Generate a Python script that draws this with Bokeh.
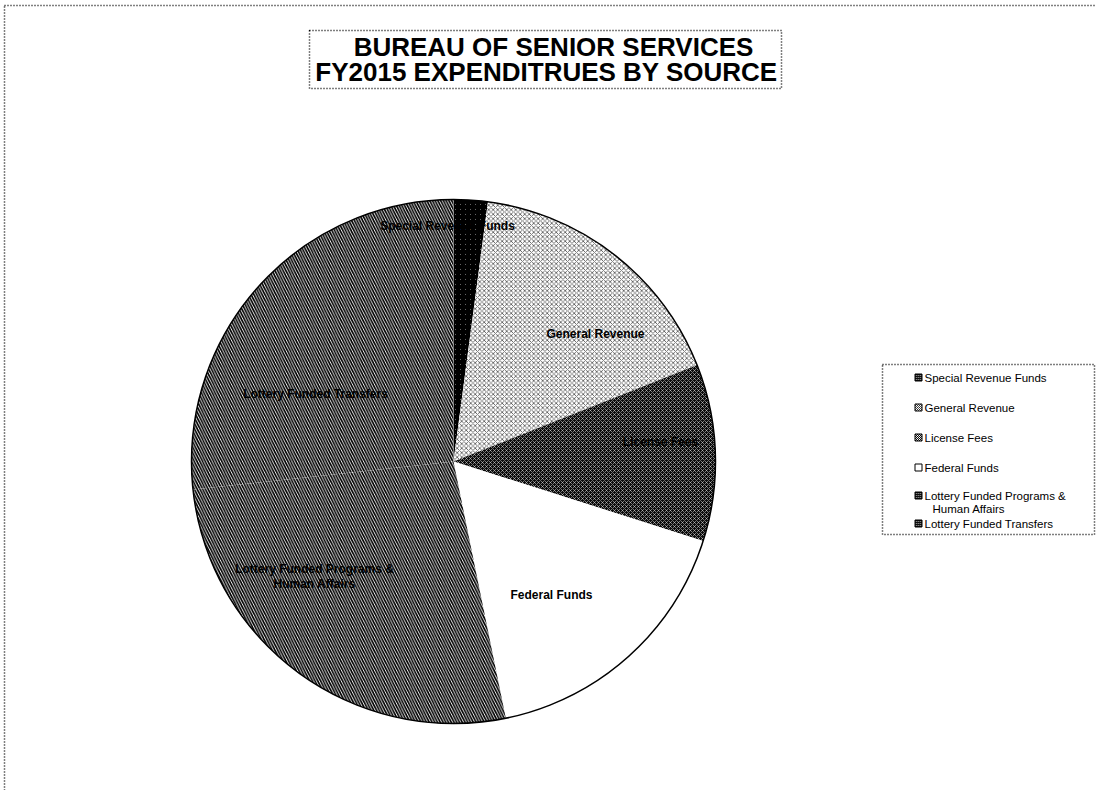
import numpy as np
from bokeh.plotting import figure
from bokeh.models import Range1d, ColumnDataSource
from bokeh.core.properties import value
from bokeh.embed import file_html
from bokeh.resources import INLINE

# ---------------- data ----------------
categories = [
    "Special Revenue Funds",
    "General Revenue",
    "License Fees",
    "Federal Funds",
    "Lottery Funded Programs & Human Affairs",
    "Lottery Funded Transfers",
]
shares = [2.1, 16.9, 10.9, 16.9, 26.5, 26.7]
title_lines = ["BUREAU OF SENIOR SERVICES", "FY2015 EXPENDITRUES BY SOURCE"]
slice_label_lines = [
    ["Special Revenue Funds"],
    ["General Revenue"],
    ["License Fees"],
    ["Federal Funds"],
    ["Lottery Funded Programs &", "Human Affairs"],
    ["Lottery Funded Transfers"],
]
legend_label_lines = [
    ["Special Revenue Funds"],
    ["General Revenue"],
    ["License Fees"],
    ["Federal Funds"],
    ["Lottery Funded Programs &", "Human Affairs"],
    ["Lottery Funded Transfers"],
]

# ---------------- styles / layout ----------------
fills = ["white", "white", "#0a0a0a", "white", "white", "white"]
hatches = ["\\", "x", "x", " ", "\\", "\\"]
hatch_colors = ["black", "#333333", "white", "black", "black", "black"]
hatch_scales = [5.0, 4.5, 4.0, 4.0, 5.5, 5.5]
hatch_weights = [2.4, 0.7, 0.45, 1.0, 1.65, 1.65]

W, H = 1096, 790


def X(px):
    return px


def Y(py):
    return H - py


cx, cy, R = X(453), Y(461), 262
# label anchors (reference pixel centres)
label_pos = [(447, 225), (595, 333), (660, 441), (551, 594), (314, 568), (315, 393)]
legend_rows = [377, 407, 437, 467, 495, 523]

p = figure(width=W, height=H, output_backend="svg", toolbar_location=None,
           x_range=Range1d(0, W), y_range=Range1d(0, H), min_border=0)
p.axis.visible = False
p.grid.visible = False
p.outline_line_color = None
p.background_fill_color = "white"
p.border_fill_color = "white"

# outer dotted frame (top and left visible)
p.segment(x0=[4, 4], y0=[Y(5), 0], x1=[W, 4], y1=[Y(5), Y(5)],
          line_color="black", line_width=1.5, line_dash="1 2")

# pie
frac = np.array(shares, dtype=float) / np.sum(shares)
cum = np.concatenate([[0], np.cumsum(frac)])
start = np.pi / 2 - 2 * np.pi * cum[:-1]
end = np.pi / 2 - 2 * np.pi * cum[1:]
src = ColumnDataSource(dict(
    cat=categories, start=start, end=end, fill=fills, hatch=hatches,
    hcolor=hatch_colors, hscale=hatch_scales, hweight=hatch_weights,
))
p.wedge(x=cx, y=cy, radius=R, start_angle="start", end_angle="end",
        direction="clock", source=src, fill_color="fill", hatch_pattern="hatch",
        hatch_color="hcolor", hatch_scale="hscale", hatch_weight="hweight",
        line_color=None)
p.circle(x=[cx], y=[cy], radius=R, fill_color=None, line_color="black", line_width=1.5)

# slice labels
lx, ly, lt = [], [], []
for (px, py), lines in zip(label_pos, slice_label_lines):
    for k, t in enumerate(lines):
        lx.append(X(px)); ly.append(Y(py + 15 * k)); lt.append(t)
p.text(x=lx, y=ly, text=lt, text_align="center", text_baseline="middle",
       text_font=value("Liberation Sans"), text_font_style="bold",
       text_font_size="12px", text_color="black")

# title
p.rect(x=[X(545)], y=[Y(59)], width=472, height=58, fill_color=None,
       line_color="black", line_width=1.5, line_dash="1 2")
p.text(x=[X(553), X(546)], y=[Y(46), Y(71)], text=title_lines,
       text_align="center", text_baseline="middle",
       text_font=value("Liberation Sans"), text_font_style="bold",
       text_font_size="26px", text_color="black")

# legend
p.rect(x=[X(988)], y=[Y(449)], width=212, height=170, fill_color="white",
       line_color="black", line_width=1.5, line_dash="1 2")
mx = X(918)
p.rect(x=[mx] * 6, y=[Y(r) for r in legend_rows], width=7, height=7,
       fill_color=fills, hatch_pattern=hatches, hatch_color=hatch_colors,
       hatch_scale=2.0, hatch_weight=1.0, line_color="black", line_width=1)
tx, ty, tt = [], [], []
for r, lines in zip(legend_rows, legend_label_lines):
    for k, t in enumerate(lines):
        tx.append(X(924 + (8 * k))); ty.append(Y(r + 13 * k)); tt.append(t)
p.text(x=tx, y=ty, text=tt, text_align="left", text_baseline="middle",
       text_font=value("Liberation Sans"), text_font_size="11.5px", text_color="black")

open("out.html", "w").write(file_html(p, INLINE))
